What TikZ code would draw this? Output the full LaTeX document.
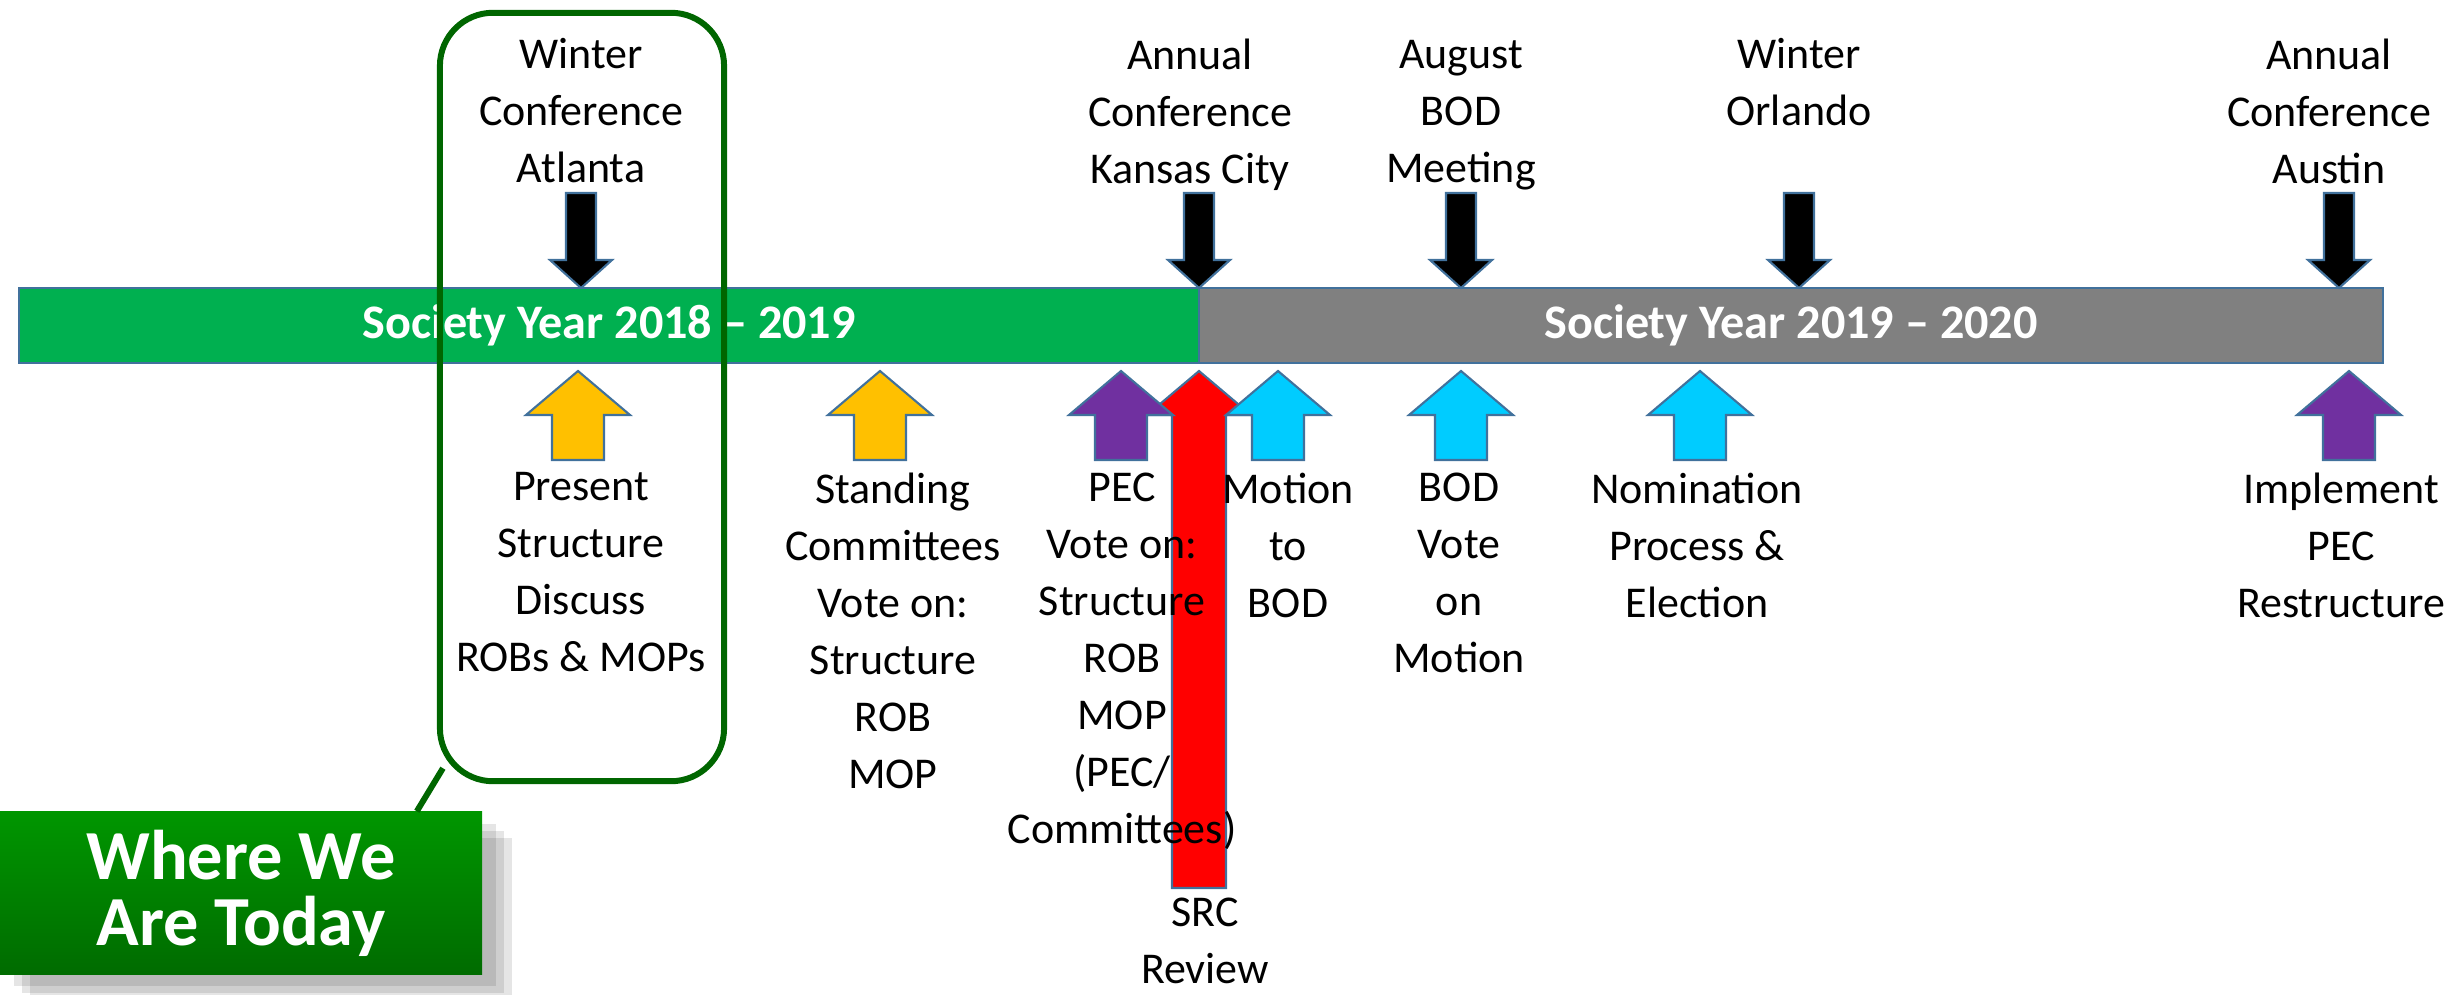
\documentclass[tikz,border=0pt]{standalone}
\usepackage{fontspec}
\setmainfont{Carlito}
\usepackage{tikz}
\usetikzlibrary{shadows}

\definecolor{barGreen}{RGB}{0,176,80}
\definecolor{barGrey}{RGB}{128,128,128}
\definecolor{edgeBlue}{RGB}{65,113,156}
\definecolor{todayGreen}{RGB}{0,102,0}
\definecolor{todayLight}{RGB}{0,150,0}
\definecolor{todayDark}{RGB}{0,100,0}
\definecolor{arrYellow}{RGB}{255,192,0}
\definecolor{arrPurple}{RGB}{112,48,160}
\definecolor{arrCyan}{RGB}{0,204,255}
\definecolor{arrRed}{RGB}{255,0,0}

\tikzset{
  lbl/.style={anchor=north,align=center,inner sep=0pt,font=\fontsize{12.5}{16.2}\selectfont},
  yearbar/.style={draw=edgeBlue,line width=0.6pt,minimum height=0.75cm,inner sep=0pt,outer sep=0pt,
    text=white,font=\fontsize{13.7}{16}\selectfont\bfseries},
  blockarr/.style={draw=edgeBlue,line width=0.6pt,line join=miter},
}

\begin{document}
\begin{tikzpicture}[x=0.01cm,y=-0.01cm]
    \useasboundingbox (0,0) rectangle (2464,994);
    % the two society years
    \node (yr1) at (609,325.5) [yearbar,fill=barGreen,minimum width=11.80cm] {Society Year 2018 -- 2019};
    \node (yr2) at (1791,325.5) [yearbar,fill=barGrey,minimum width=11.84cm] {Society Year 2019 -- 2020};
    % where we are today
    \node (today) at (582,397) [draw=todayGreen,line width=1.7pt,rounded corners=0.53cm,
      minimum width=2.84cm,minimum height=7.68cm] {};
    \node (where) at (241,893) [minimum width=4.82cm,minimum height=1.62cm,
      top color=todayLight,middle color=todayDark,bottom color=todayDark!85!todayLight,
      drop shadow={shadow xshift=0.30cm,shadow yshift=-0.26cm,fill=black,opacity=0.10},
      drop shadow={shadow xshift=0.22cm,shadow yshift=-0.19cm,fill=black,opacity=0.10},
      drop shadow={shadow xshift=0.14cm,shadow yshift=-0.12cm,fill=black,opacity=0.10},
      text=white,align=center,font=\fontsize{20}{18.8}\selectfont\bfseries] {Where We\\Are Today};
    \draw [todayGreen,line width=1.7pt] ([shift={(6,-16)}]today.south west) -- ([shift={(-66,0)}]where.north east);
    % events
    \foreach \x in {581,1199,1461,1799,2339}
      \draw [blockarr,fill=black] (\x-15,193) -- (\x+15,193) -- (\x+15,260) -- (\x+31,260)
        -- (\x,288) -- (\x-31,260) -- (\x-15,260) -- cycle;
    % actions
    \draw [blockarr,fill=arrRed] (1172,888) -- (1172,415) -- (1147,415) -- (1199,371)
      -- (1251,415) -- (1226,415) -- (1226,888) -- cycle;
    \foreach \x/\col in {578/arrYellow,880/arrYellow,1121/arrPurple,1278/arrCyan,
        1461/arrCyan,1700/arrCyan,2349/arrPurple}
      \draw [blockarr,fill=\col] (\x-26,460) -- (\x-26,415) -- (\x-52,415) -- (\x,371)
        -- (\x+52,415) -- (\x+26,415) -- (\x+26,460) -- cycle;
    \node (atl) at (581,38) [lbl] {Winter\\Conference\\Atlanta};
    \node (kc) at (1190,38) [lbl] {Annual\\Conference\\Kansas City};
    \node (aug) at (1461,40) [lbl] {August\\BOD\\Meeting};
    \node (orl) at (1799,38) [lbl] {Winter\\Orlando};
    \node (aus) at (2329,38) [lbl] {Annual\\Conference\\Austin};
    \node (present) at (581,472) [lbl] {Present\\Structure\\Discuss\\ROBs \& MOPs};
    \node (standing) at (893,472) [lbl] {Standing\\Committees\\Vote on:\\Structure\\ROB\\MOP};
    \node (pec) at (1122,472) [lbl] {PEC\\Vote on:\\Structure\\ROB\\MOP\\(PEC/\\Committees)};
    \node (motion) at (1288,472) [lbl] {Motion\\to\\BOD};
    \node (bodvote) at (1459,472) [lbl] {BOD\\Vote\\on\\Motion};
    \node (nomin) at (1697,472) [lbl] {Nomination\\Process \&\\Election};
    \node (implement) at (2341,472) [lbl] {Implement\\PEC\\Restructure};
    \node (src) at (1205,897) [lbl] {SRC\\Review};
\end{tikzpicture}
\end{document}
